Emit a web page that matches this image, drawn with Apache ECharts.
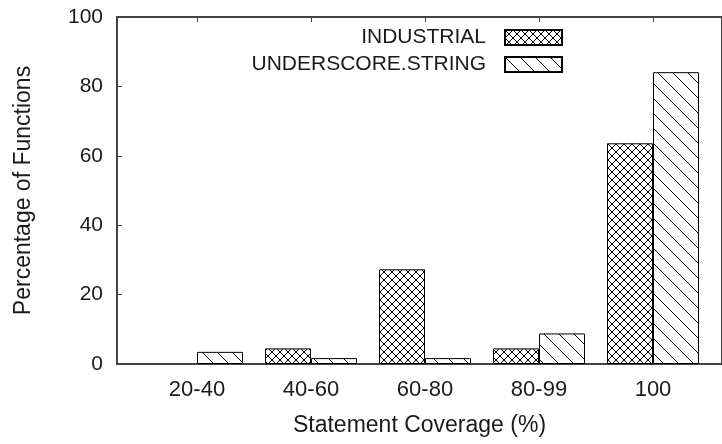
<!DOCTYPE html>
<html>
<head>
<meta charset="utf-8">
<script src="https://cdn.jsdelivr.net/npm/echarts@6/dist/echarts.min.js"></script>
<style>
html,body{margin:0;padding:0;background:#fff;}
#c{width:722px;height:444px;}
</style>
</head>
<body>
<div id="c"></div>
<script>
const categories = ['20-40', '40-60', '60-80', '80-99', '100'];
const industrial = [0, 4.5, 27.3, 4.5, 63.6];
const underscoreString = [3.5, 1.7, 1.7, 8.8, 84.1];
const yTicks = [0, 20, 40, 60, 80, 100];
const seriesNames = ['INDUSTRIAL', 'UNDERSCORE.STRING'];

function makePattern(kind) {
  const c = document.createElement('canvas');
  const s = kind === 'cross' ? 8 : 15;
  c.width = s; c.height = s;
  const g = c.getContext('2d');
  g.fillStyle = '#fff';
  g.fillRect(0, 0, s, s);
  g.strokeStyle = '#000';
  g.lineWidth = 1;
  g.beginPath();
  g.moveTo(-1, -1); g.lineTo(s + 1, s + 1);
  if (kind === 'cross') {
    g.moveTo(-1, s + 1); g.lineTo(s + 1, -1);
  }
  g.stroke();
  return { image: c, repeat: 'repeat' };
}

// zero-height bars are not outlined in the reference
function toItems(arr) {
  return arr.map(function (v) {
    return v === 0 ? { value: v, itemStyle: { borderWidth: 0 } } : v;
  });
}

const FONT = 'Liberation Sans, Arial, Helvetica, sans-serif';
const FS_TICK_X = 22;
const FS_TICK_Y = 21;
const FS_LEG = 21;
const FS_TITLE = 23;
const TXT = '#1a1a1a';
const chart = echarts.init(document.getElementById('c'), null, { renderer: 'canvas' });
chart.setOption({
  backgroundColor: '#fff',
  animation: false,
  textStyle: { fontFamily: FONT },
  legend: {
    orient: 'vertical',
    align: 'right',
    right: 154,
    top: 21.5,
    itemWidth: 57,
    itemHeight: 15,
    itemGap: 5,
    icon: 'rect',
    textStyle: { fontSize: FS_LEG, color: TXT, fontFamily: FONT, lineHeight: 22, padding: [0, 14, 0, 0] },
    data: seriesNames
  },
  grid: [
    { left: 117, right: -11, top: 17, bottom: 80, show: true, borderColor: '#444', borderWidth: 2, backgroundColor: 'transparent' },
    { left: 140, right: 12, top: 17, bottom: 80 }
  ],
  xAxis: [
    { type: 'value', gridIndex: 0, min: 0, max: 1, show: true,
      axisLine: { show: false }, axisTick: { show: false }, axisLabel: { show: false }, splitLine: { show: false },
      name: 'Statement Coverage (%)', nameLocation: 'middle', nameGap: 50,
      nameTextStyle: { fontSize: FS_TITLE, color: TXT, fontFamily: FONT } },
    { type: 'category', gridIndex: 1, data: categories, position: 'bottom',
      axisLine: { show: false },
      axisTick: { show: true, inside: true, alignWithLabel: true, length: 5, lineStyle: { color: '#444', width: 1 } },
      axisLabel: { fontSize: FS_TICK_X, color: TXT, margin: 15, fontFamily: FONT },
      splitLine: { show: false } },
    { type: 'category', gridIndex: 1, data: categories, position: 'top',
      axisLine: { show: false },
      axisTick: { show: true, inside: true, alignWithLabel: true, length: 5, lineStyle: { color: '#444', width: 1 } },
      axisLabel: { show: false }, splitLine: { show: false } }
  ],
  yAxis: [
    { type: 'value', gridIndex: 0, min: 0, max: 100, interval: 20,
      axisLine: { show: false },
      axisTick: { show: true, inside: true, length: 5, lineStyle: { color: '#444', width: 1 } },
      axisLabel: { fontSize: FS_TICK_Y, color: TXT, margin: 14, fontFamily: FONT,
        formatter: function (v) { return yTicks.indexOf(v) >= 0 ? String(v) : ''; } },
      splitLine: { show: false },
      name: 'Percentage of Functions', nameLocation: 'middle', nameGap: 82, nameRotate: 90,
      nameTextStyle: { fontSize: FS_TITLE, color: TXT, fontFamily: FONT } },
    { type: 'value', gridIndex: 1, min: 0, max: 100, show: false }
  ],
  series: [
    { name: seriesNames[0], type: 'bar', xAxisIndex: 1, yAxisIndex: 1, data: toItems(industrial),
      barWidth: 46, barGap: '0%',
      itemStyle: { color: makePattern('cross'), borderColor: '#000', borderWidth: 1 } },
    { name: seriesNames[1], type: 'bar', xAxisIndex: 1, yAxisIndex: 1, data: toItems(underscoreString),
      barWidth: 46, barGap: '0%',
      itemStyle: { color: makePattern('diag'), borderColor: '#000', borderWidth: 1 } }
  ]
});
</script>
</body>
</html>
